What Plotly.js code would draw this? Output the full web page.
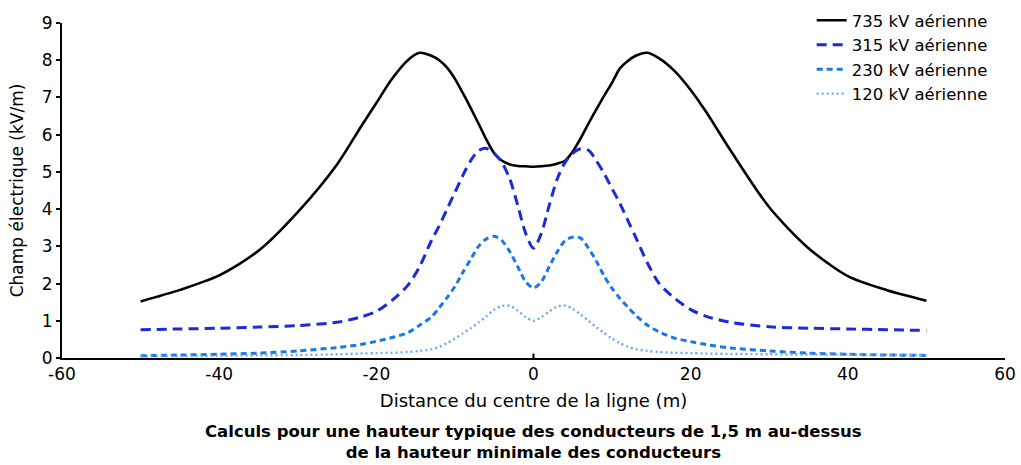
<!DOCTYPE html>
<html>
<head>
<meta charset="utf-8">
<script src="https://cdn.plot.ly/plotly-3.0.1.min.js"></script>
<style>html,body{margin:0;padding:0;background:#fff}#chart{width:1021px;height:465px}</style>
</head>
<body>
<div id="chart"></div>
<script>
// Distance from the line centre (m)
const distance = [-50,-45,-40,-35,-30,-25,-22,-20,-18,-16,-14.5,-13,-12,-11,-10,-9,-8,-7,-6,-5,-4,-3,-2,-1,0,
                  1,2,3,4,5,6,7,8,9,10,11,12,13,14.5,16,18,20,22,25,30,35,40,45,50];

// Electric field (kV/m)
const kv735 = [1.52,1.83,2.22,2.88,3.92,5.2,6.2,6.85,7.5,8.0,8.2,8.12,8.0,7.8,7.5,7.12,6.72,6.3,5.87,5.5,5.3,5.2,5.16,5.15,5.14,
               5.15,5.17,5.22,5.3,5.55,5.9,6.3,6.68,7.05,7.4,7.78,7.98,8.12,8.2,8.05,7.7,7.2,6.6,5.6,4.05,2.95,2.2,1.82,1.54];
const kv315 = [0.76,0.78,0.80,0.83,0.87,0.96,1.1,1.25,1.55,1.95,2.45,3.15,3.55,4.0,4.45,4.9,5.3,5.57,5.63,5.5,5.25,4.8,4.1,3.35,2.95,
               3.35,4.1,4.8,5.25,5.5,5.62,5.58,5.3,4.95,4.55,4.15,3.7,3.25,2.55,2.0,1.6,1.3,1.12,0.96,0.84,0.8,0.78,0.76,0.74];
const kv230 = [0.06,0.08,0.10,0.13,0.19,0.28,0.36,0.45,0.55,0.68,0.88,1.1,1.35,1.62,1.92,2.3,2.65,3.0,3.2,3.27,3.15,2.85,2.45,2.05,1.88,
               2.05,2.45,2.85,3.15,3.25,3.22,2.95,2.6,2.2,1.87,1.6,1.37,1.15,0.88,0.7,0.53,0.44,0.36,0.27,0.19,0.13,0.10,0.08,0.07];
const kv120 = [0.04,0.05,0.06,0.07,0.08,0.1,0.12,0.13,0.14,0.16,0.19,0.23,0.3,0.4,0.52,0.66,0.8,0.95,1.12,1.3,1.4,1.4,1.27,1.1,1.0,
               1.1,1.25,1.38,1.41,1.32,1.17,1.0,0.83,0.67,0.52,0.4,0.3,0.24,0.19,0.16,0.14,0.13,0.12,0.11,0.1,0.09,0.09,0.09,0.08];

const seriesNames = ['735 kV aérienne','315 kV aérienne','230 kV aérienne','120 kV aérienne'];
const xTicks = [-60,-40,-20,0,20,40,60];
const yTicks = [0,1,2,3,4,5,6,7,8,9];
const captionLines = ['Calculs pour une hauteur typique des conducteurs de 1,5 m au-dessus',
                      'de la hauteur minimale des conducteurs'];

const traces = [
  {x: distance, y: kv735, name: seriesNames[0], mode: 'lines',
   line: {color: '#000000', width: 2.6, shape: 'spline', smoothing: 0.8}},
  {x: distance, y: kv315, name: seriesNames[1], mode: 'lines',
   line: {color: '#1c2bd8', width: 3, dash: '10px,6px', shape: 'spline', smoothing: 0.8}},
  {x: distance, y: kv230, name: seriesNames[2], mode: 'lines',
   line: {color: '#1a78e8', width: 3, dash: '6px,4px', shape: 'spline', smoothing: 0.8}},
  {x: distance, y: kv120, name: seriesNames[3], mode: 'lines',
   line: {color: '#6aaaf2', width: 2.4, dash: '2px,3px', shape: 'spline', smoothing: 0.8}}
];

const baseFont = 'DejaVu Sans, Arial, sans-serif';
// paper: top at 0px, bottom at 358px (plot bottom); plot area top at 23px
const paperH = 358;

const layout = {
  width: 1021, height: 465,
  margin: {l: 62, r: 16, t: 0, b: 107, autoexpand: false},
  paper_bgcolor: '#ffffff', plot_bgcolor: '#ffffff',
  font: {family: baseFont, color: '#000000', size: 17},
  showlegend: true,
  legend: {x: 0.795, xanchor: 'left', y: 1 - 3 / paperH, yanchor: 'top',
           bgcolor: 'rgba(0,0,0,0)', font: {family: baseFont, size: 16.5, color: '#000'},
           tracegroupgap: 0, itemwidth: 30},
  xaxis: {
    range: [-60, 60], tickmode: 'array', tickvals: xTicks, ticktext: xTicks.map(String),
    showgrid: false, zeroline: false, showline: true, linecolor: '#000', linewidth: 2,
    ticks: '', ticklabelstandoff: 0,
    tickfont: {family: baseFont, size: 17, color: '#000'},
    title: {text: 'Distance du centre de la ligne (m)', standoff: 11,
            font: {family: baseFont, size: 18, color: '#000'}},
    automargin: false
  },
  yaxis: {
    domain: [0, (paperH - 23) / paperH],
    range: [0, 9], tickmode: 'array', tickvals: yTicks, ticktext: yTicks.map(String),
    showgrid: false, zeroline: false, showline: true, linecolor: '#000', linewidth: 2,
    ticks: 'outside', ticklen: 4, tickwidth: 2, tickcolor: '#000',
    tickfont: {family: baseFont, size: 17, color: '#000'},
    title: {text: 'Champ électrique (kV/m)', standoff: 14,
            font: {family: baseFont, size: 17, color: '#000'}},
    automargin: false
  },
  shapes: [
    {type: 'line', xref: 'x', yref: 'y', x0: 0, x1: 0, y0: 0, y1: 0.12,
     line: {color: '#000', width: 2}}
  ],
  annotations: [
    {xref: 'paper', yref: 'paper', x: 0.5, y: -62 / paperH, xanchor: 'center', yanchor: 'top',
     showarrow: false, align: 'center', text: captionLines.join('<br>'),
     font: {family: baseFont, size: 16.5, color: '#000', weight: 'bold'}}
  ]
};

Plotly.newPlot('chart', traces, layout, {displayModeBar: false, staticPlot: true});
</script>
</body>
</html>
